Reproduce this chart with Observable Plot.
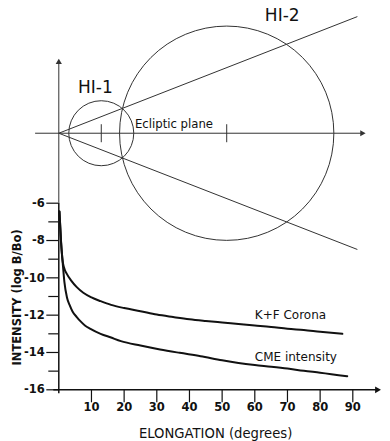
<!DOCTYPE html>
<html><head><meta charset="utf-8">
<script src="https://cdn.jsdelivr.net/npm/d3@7"></script>
<script src="https://cdn.jsdelivr.net/npm/@observablehq/plot@0.6"></script>
<style>body{margin:0;background:#fff}#chart svg{display:block}</style>
</head><body><div id="chart"></div>
<script>
// ---- chart data ----
const kfElong = [0.2, 0.7, 1.1, 1.6, 2.5, 3.8, 5.5, 7.5, 10, 12.8, 16, 20, 25, 30, 35, 40, 45, 50, 55, 60, 65, 70, 75, 80, 86.8];
const kfLog   = [-6.45, -8.1, -9.0, -9.45, -9.8, -10.15, -10.5, -10.8, -11.05, -11.25, -11.45, -11.62, -11.79, -11.97, -12.1, -12.22, -12.31, -12.39, -12.47, -12.55, -12.63, -12.73, -12.8, -12.89, -13.0];
const cmeElong = [0.2, 0.7, 1.2, 1.7, 2.5, 3.3, 4.2, 5.5, 6.6, 8, 9.7, 12.8, 16, 19, 25, 31, 37, 43.4, 50, 55, 60, 65, 70, 75, 80, 88.3];
const cmeLog   = [-6.45, -8.1, -9.2, -10.2, -11.05, -11.45, -11.8, -12.1, -12.32, -12.55, -12.73, -13.0, -13.2, -13.39, -13.63, -13.84, -14.02, -14.2, -14.42, -14.56, -14.67, -14.76, -14.86, -14.98, -15.08, -15.27];
const xTicks = [10, 20, 30, 40, 50, 60, 70, 80, 90];
const yTicks = [-6, -8, -10, -12, -14, -16];
const yMinor = [-7, -9, -11, -13, -15];
const seriesNames = ["K+F Corona", "CME intensity"];
const seriesLabelPos = [{x: 60.0, y: -12.02}, {x: 60.0, y: -14.25}];

// ---- diagram data (elongation degrees, same vertical units) ----
const eclipticLevel = -2.25;
const eclipticSpan = [-7.1, 93.9];
const verticalTop = 1.74;
const instruments = ["HI-1", "HI-2"];
const fovCenter = [13.0, 51.4];      // degrees
const fovRadius = [9.95, 32.8];      // degrees
const instrLabelPos = [{x: 11.2, y: 0.2}, {x: 68.4, y: 4.06}];
const fovEdgeEnd = [{x: 91.4, y: 4.0}, {x: 91.4, y: -8.48}];
const eclipticLabel = {text: "Ecliptic plane", x: 23.3, y: -1.78};

// ---- scales ----
const xDomain = [0, 90], xRange = [58.3, 352.3];
const yDomain = [-6, -16], yRange = [202.7, 389.3];
const pxPerDeg = (xRange[1] - xRange[0]) / (xDomain[1] - xDomain[0]);
const pxPerUnit = (yRange[1] - yRange[0]) / (yDomain[0] - yDomain[1]);
const yu = px => px / pxPerUnit; // pixel length -> vertical units
const xu = px => px / pxPerDeg;

const kf = kfElong.map((x, i) => ({x, y: kfLog[i]}));
const cme = cmeElong.map((x, i) => ({x, y: cmeLog[i]}));
const circles = instruments.map((name, i) => ({name, x: fovCenter[i], r: fovRadius[i] * pxPerDeg}));

const font = "DejaVu Sans, Verdana, sans-serif";
const ink = "#111";
const thin = "#333";

const plot = Plot.plot({
  width: 390, height: 441,
  margin: 0,
  style: {fontFamily: font, background: "#fff", color: ink, overflow: "visible"},
  x: {domain: xDomain, range: xRange, axis: null},
  y: {domain: yDomain, range: yRange, axis: null},
  marks: [
    // diagram: ecliptic plane
    Plot.ruleY([eclipticLevel], {x1: eclipticSpan[0], x2: eclipticSpan[1] - xu(3), stroke: thin, strokeWidth: 1}),
    Plot.dot([{x: eclipticSpan[1] - xu(3.5), y: eclipticLevel}], {x: "x", y: "y", symbol: "triangle", r: 2.3, fill: thin, stroke: null, rotate: 90}),
    // vertical axis (diagram part)
    Plot.ruleX([0], {y1: yDomain[0], y2: verticalTop - yu(3), stroke: thin, strokeWidth: 1}),
    Plot.dot([{x: 0, y: verticalTop - yu(3.5)}], {x: "x", y: "y", symbol: "triangle", r: 2.3, fill: thin, stroke: null}),
    // FOV circles
    ...circles.map(c => Plot.dot([c], {x: "x", y: () => eclipticLevel, r: c.r, fill: "none", stroke: thin, strokeWidth: 1})),
    // center ticks
    Plot.ruleX(fovCenter, {y1: eclipticLevel + yu(8.5), y2: eclipticLevel - yu(9.5), stroke: thin, strokeWidth: 1}),
    // FOV edge lines
    Plot.link(fovEdgeEnd, {x1: 0, y1: eclipticLevel, x2: "x", y2: "y", stroke: thin, strokeWidth: 1}),
    Plot.text(instruments, {x: (d, i) => instrLabelPos[i].x, y: (d, i) => instrLabelPos[i].y, text: d => d, fontSize: 17, fill: ink}),
    Plot.text([eclipticLabel], {x: "x", y: "y", text: "text", textAnchor: "start", fontSize: 11.7, fill: ink}),

    // chart: axes
    Plot.ruleX([0], {y1: yDomain[1] - yu(4), y2: yDomain[0], stroke: ink, strokeWidth: 1.5}),
    Plot.ruleY([yDomain[1]], {x1: -xu(5), x2: 98.5 - xu(3), stroke: ink, strokeWidth: 1.5}),
    Plot.dot([{x: 98.5 - xu(3.5), y: yDomain[1]}], {x: "x", y: "y", symbol: "triangle", r: 2.5, fill: ink, stroke: null, rotate: 90}),
    Plot.ruleY(yTicks, {x1: -xu(12), x2: 0, stroke: ink, strokeWidth: 1.2}),
    Plot.ruleY(yMinor, {x1: -xu(10), x2: 0, stroke: ink, strokeWidth: 1.2}),
    Plot.ruleX(xTicks, {y1: yDomain[1], y2: yDomain[1] - yu(13), stroke: ink, strokeWidth: 1.2}),
    Plot.text(yTicks, {x: -xu(14), y: d => d, text: d => String(d), textAnchor: "end", fontSize: 11.5, fontWeight: "bold", fill: ink}),
    Plot.text(xTicks, {x: d => d, y: yDomain[1] - yu(18), text: d => String(d), fontSize: 11.5, fontWeight: "bold", fill: ink}),
    Plot.text(["INTENSITY (log B/Bo)"], {x: -xu(41.3), y: -11.05, text: d => d, rotate: -90, fontSize: 11.5, fontWeight: "bold", fill: ink}),
    Plot.text(["ELONGATION (degrees)"], {x: 48, y: yDomain[1] - yu(44), text: d => d, fontSize: 13.2, fill: ink}),

    // curves
    Plot.line(kf, {x: "x", y: "y", stroke: ink, strokeWidth: 2, curve: "monotone-x"}),
    Plot.line(cme, {x: "x", y: "y", stroke: ink, strokeWidth: 2, curve: "monotone-x"}),
    Plot.text(seriesNames, {x: (d, i) => seriesLabelPos[i].x, y: (d, i) => seriesLabelPos[i].y, text: d => d, textAnchor: "start", fontSize: 12, fill: ink})
  ]
});
document.getElementById("chart").append(plot);
</script>
</body></html>
